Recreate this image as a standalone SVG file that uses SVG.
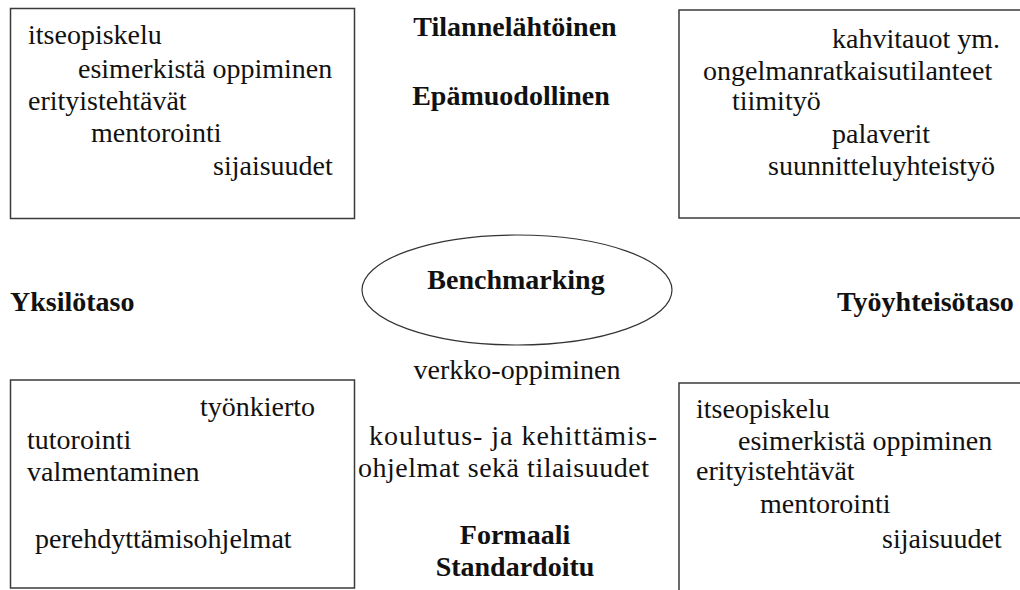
<svg xmlns="http://www.w3.org/2000/svg" width="1020" height="590" viewBox="0 0 1020 590">
  <style>
    .box { fill: #ffffff; stroke: #3a3a3a; stroke-width: 1.5; }
    .oval { fill: #ffffff; stroke: #333333; stroke-width: 1.2; }
    .b { font-weight: bold; }
    .c { text-anchor: middle; }
  </style>
  <rect width="1020" height="590" fill="#ffffff"/>

  <g font-family="'Liberation Serif', 'Times New Roman', Times, serif" font-size="28" fill="#111111">

  <!-- upper left: informal, individual level -->
  <g id="box-top-left">
    <rect class="box" x="10.5" y="8.5" width="344" height="210"/>
    <text x="28" y="44">itseopiskelu</text>
    <text x="78" y="78">esimerkistä oppiminen</text>
    <text x="28" y="110">erityistehtävät</text>
    <text x="91" y="142">mentorointi</text>
    <text x="213" y="175">sijaisuudet</text>
  </g>

  <!-- upper right: informal, community level -->
  <g id="box-top-right">
    <rect class="box" x="679" y="10" width="360" height="208"/>
    <text x="832" y="48">kahvitauot ym.</text>
    <text x="703" y="80">ongelmanratkaisutilanteet</text>
    <text x="732" y="110">tiimityö</text>
    <text x="832" y="143">palaverit</text>
    <text x="768" y="175">suunnitteluyhteistyö</text>
  </g>

  <!-- lower left: formal, individual level -->
  <g id="box-bottom-left">
    <rect class="box" x="10.5" y="380" width="344" height="208"/>
    <text x="200" y="416">työnkierto</text>
    <text x="27" y="449">tutorointi</text>
    <text x="27" y="481">valmentaminen</text>
    <text x="35" y="548">perehdyttämisohjelmat</text>
  </g>

  <!-- lower right: formal, community level -->
  <g id="box-bottom-right">
    <rect class="box" x="679" y="383" width="360" height="220"/>
    <text x="696" y="418">itseopiskelu</text>
    <text x="738" y="450">esimerkistä oppiminen</text>
    <text x="696" y="480">erityistehtävät</text>
    <text x="760" y="513">mentorointi</text>
    <text x="882" y="548">sijaisuudet</text>
  </g>

  <!-- centre -->
  <g id="benchmarking">
    <ellipse class="oval" cx="517" cy="290" rx="155" ry="55"/>
    <text class="b c" x="516" y="289">Benchmarking</text>
  </g>

  <!-- axis labels -->
  <g id="axis-informal">
    <text class="b c" x="515" y="36">Tilannelähtöinen</text>
    <text class="b c" x="511" y="105">Epämuodollinen</text>
  </g>
  <g id="axis-individual">
    <text class="b" x="10" y="311">Yksilötaso</text>
  </g>
  <g id="axis-community">
    <text class="b" x="837" y="311">Työyhteisötaso</text>
  </g>
  <g id="axis-formal">
    <text class="b c" x="515" y="544">Formaali</text>
    <text class="b c" x="515" y="576">Standardoitu</text>
  </g>

  <!-- items between the lower boxes -->
  <g id="middle-items">
    <text class="c" x="517" y="379">verkko-oppiminen</text>
    <text x="369" y="445" textLength="288" lengthAdjust="spacing">koulutus- ja kehittämis-</text>
    <text x="358" y="477" textLength="291" lengthAdjust="spacing">ohjelmat sekä tilaisuudet</text>
  </g>

  </g>
</svg>
